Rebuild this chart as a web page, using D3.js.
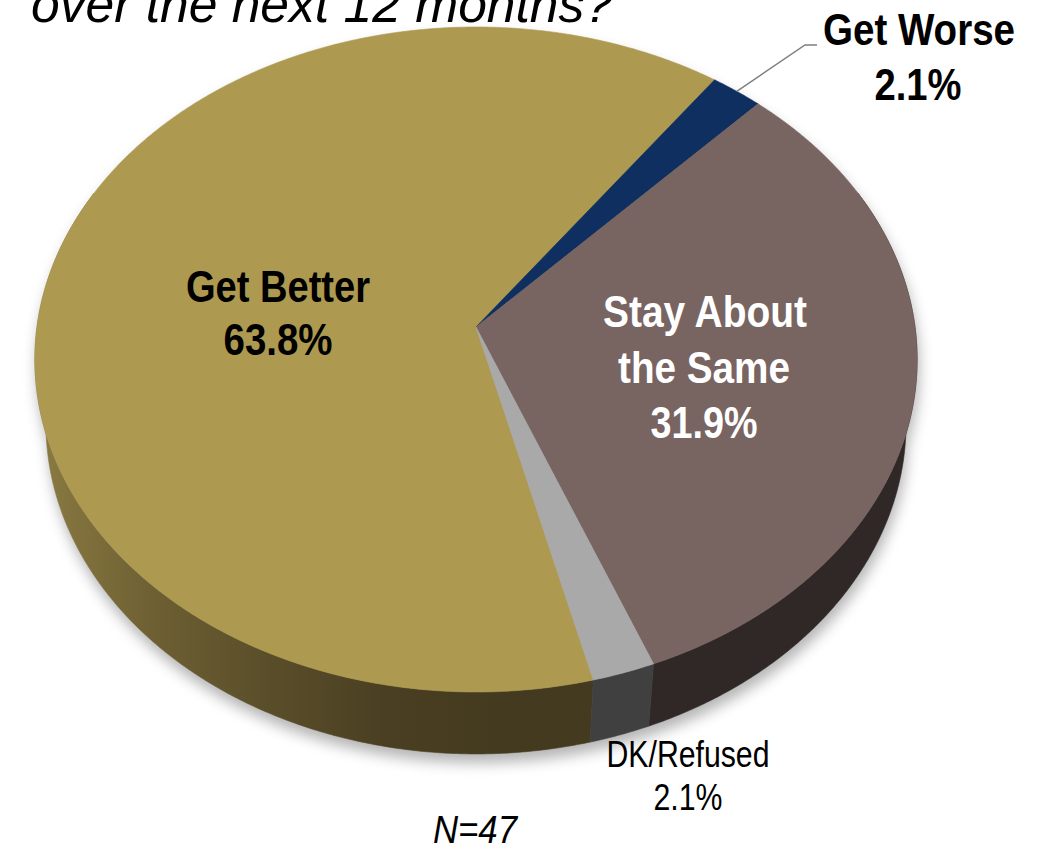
<!DOCTYPE html>
<html><head><meta charset="utf-8">
<script src="https://cdn.jsdelivr.net/npm/d3@7"></script>
<style>html,body{margin:0;padding:0;background:#fff;overflow:hidden} svg{display:block}</style>
</head><body>
<script>
// ---- data ----
const categories = ["Get Better", "Get Worse", "Stay About the Same", "DK/Refused"];
const values = [63.8, 2.1, 31.9, 2.1];
const valueLabels = ["63.8%", "2.1%", "31.9%", "2.1%"];
const nameLines = [["Get Better"], ["Get Worse"], ["Stay About", "the Same"], ["DK/Refused"]];
const topColors = ["#ad9a50", "#0e2f5f", "#786562", "#a9a9a9"];
const sideColors = ["url(#goldSide)", "#0a2045", "#2f2826", "#404040"];
const titleText = "over the next 12 months?";
const noteText = "N=47";

// ---- layout ----
const W = 1046, H = 847;
const FONT = "'Liberation Sans', Arial, Helvetica, sans-serif";
const svg = d3.select("body").append("svg").attr("width", W).attr("height", H);
const defs = svg.append("defs");

const g = defs.append("linearGradient").attr("id", "goldSide")
  .attr("gradientUnits", "userSpaceOnUse").attr("x1", 35).attr("y1", 0).attr("x2", 500).attr("y2", 0);
[[0, "#8b7b42"], [0.25, "#6e6033"], [0.5, "#5a4e2a"], [0.75, "#4a3f22"], [1, "#443a1f"]]
  .forEach(([o, c]) => g.append("stop").attr("offset", o).attr("stop-color", c));

const f = defs.append("filter").attr("id", "shadow").attr("x", "-10%").attr("y", "-10%").attr("width", "120%").attr("height", "130%");
f.append("feGaussianBlur").attr("stdDeviation", 7);

// 3D projection of the disk
const cx = 476, cy = 327, R = 439, tilt = 41.4 * Math.PI / 180, D = 2970, depth = 101;
const start = 166 * Math.PI / 180;
const pie = d3.pie().sort(null).startAngle(start).endAngle(start + 2 * Math.PI);
const arcs = pie(values);

function proj(a, r, z) {
  const t = a - Math.PI / 2;
  const X = r * Math.cos(t);
  const Y = r * Math.sin(t) * Math.cos(tilt) + z * Math.sin(tilt);
  const Z = -r * Math.sin(t) * Math.sin(tilt) + z * Math.cos(tilt);
  const k = D / (D + Z);
  return [cx + X * k, cy + Y * k];
}
function arcPts(a0, a1, r, z) {
  const n = Math.max(2, Math.ceil(Math.abs(a1 - a0) / (0.4 * Math.PI / 180)));
  return d3.range(n + 1).map(i => proj(a0 + (a1 - a0) * i / n, r, z));
}
const line = d3.line().curve(d3.curveLinear);

// visible side window (front of the disk)
const winLo = 65 * Math.PI / 180, winHi = 295 * Math.PI / 180;
function sideRanges(a0, a1) {
  const out = [];
  for (let s = -1; s <= 2; s++) {
    const lo = Math.max(a0, winLo + s * 2 * Math.PI), hi = Math.min(a1, winHi + s * 2 * Math.PI);
    if (hi > lo) out.push([lo, hi]);
  }
  return out;
}
function sidePath(lo, hi) {
  const pts = arcPts(lo, hi, R, 0).concat(arcPts(hi, lo, R, depth));
  return line(pts) + "Z";
}

// shadow
const shadowG = svg.append("g").attr("filter", "url(#shadow)").attr("transform", "translate(2,9)").attr("opacity", 0.55);
shadowG.append("path").attr("d", line(arcPts(0, 2 * Math.PI, R, 0)) + "Z").attr("fill", "#777");
shadowG.append("path").attr("d", sidePath(winLo, winHi)).attr("fill", "#777");

// sides
const sides = svg.append("g");
arcs.forEach((d, i) => {
  sideRanges(d.startAngle, d.endAngle).forEach(([lo, hi]) => {
    sides.append("path").attr("d", sidePath(lo, hi))
      .attr("fill", sideColors[i]).attr("stroke", sideColors[i]).attr("stroke-width", 0.6);
  });
});

// top faces
const tops = svg.append("g");
arcs.forEach((d, i) => {
  const pts = [proj(0, 0, 0)].concat(arcPts(d.startAngle, d.endAngle, R, 0));
  tops.append("path").attr("d", line(pts) + "Z")
    .attr("fill", topColors[i]).attr("stroke", topColors[i]).attr("stroke-width", 0.6)
    .attr("stroke-linejoin", "round");
});

// ---- text ----
function txt(str, x, y, size, opts) {
  const t = svg.append("text").attr("x", x).attr("y", y).text(str)
    .attr("font-family", FONT).attr("font-size", size)
    .attr("font-weight", opts.bold ? "bold" : "normal")
    .attr("font-style", opts.italic ? "italic" : "normal")
    .attr("fill", opts.fill || "#000")
    .attr("text-anchor", opts.anchor || "middle");
  if (opts.len) t.attr("textLength", opts.len).attr("lengthAdjust", "spacingAndGlyphs");
  return t;
}

// title (cut at top)
txt(titleText, 31, 22, 52, { italic: true, anchor: "start", len: 582 });

// Get Better
txt(nameLines[0][0], 278, 302, 44, { bold: true, len: 184 });
txt(valueLabels[0], 278, 355, 44, { bold: true, len: 109 });

// Stay About the Same
txt(nameLines[2][0], 705, 327, 44, { bold: true, fill: "#fff", len: 204 });
txt(nameLines[2][1], 704, 383, 44, { bold: true, fill: "#fff", len: 172 });
txt(valueLabels[2], 704, 438, 44, { bold: true, fill: "#fff", len: 107 });

// Get Worse with leader
txt(nameLines[1][0], 919, 45, 44, { bold: true, len: 192 });
txt(valueLabels[1], 918, 100, 44, { bold: true, len: 87 });
const navy = arcs[1];
const p0 = proj((navy.startAngle + navy.endAngle) / 2, R, 0);
svg.append("path").attr("d", line([p0, [805, 45], [817, 45]]))
  .attr("fill", "none").attr("stroke", "#7f7f7f").attr("stroke-width", 1.5);

// DK/Refused
txt(nameLines[3][0], 688, 767, 37, { len: 163 });
txt(valueLabels[3], 688, 810, 37, { len: 69 });

// N=47
txt(noteText, 475, 843, 38, { italic: true, len: 84 });
</script>
</body></html>
